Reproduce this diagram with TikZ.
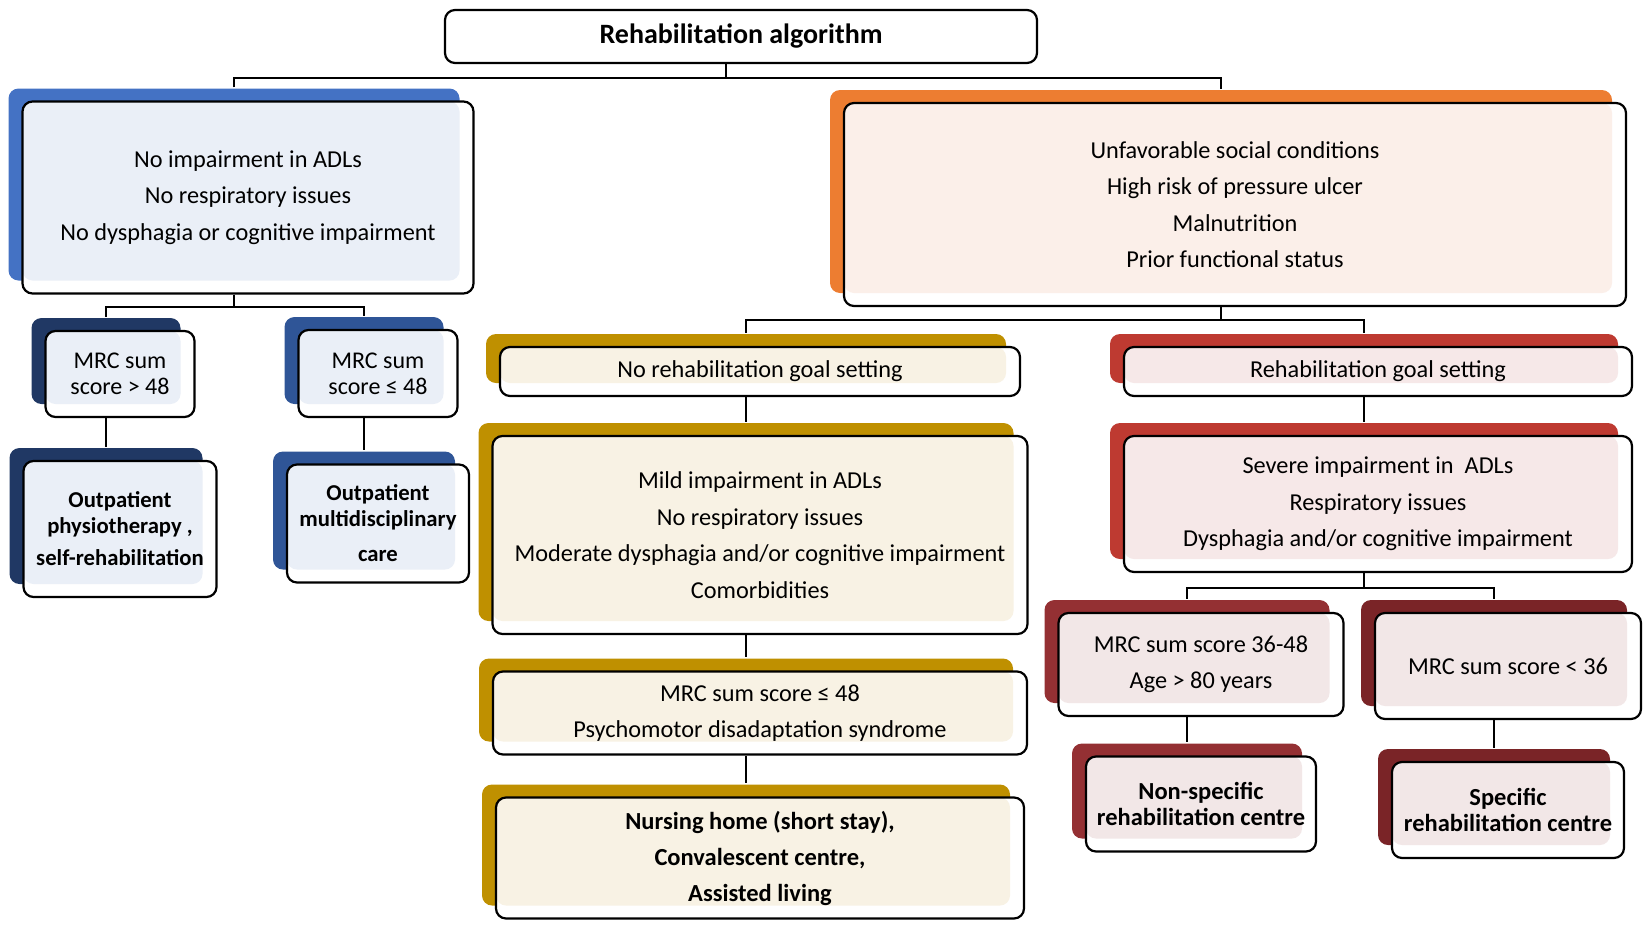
\documentclass[tikz,border=0pt]{standalone}
\usepackage{fontspec}
\setmainfont{Carlito}
\usetikzlibrary{shadows}

\definecolor{blueA}{HTML}{4472C4}
\definecolor{blueN}{HTML}{203864}
\definecolor{blueB}{HTML}{2F5597}
\definecolor{blueT}{HTML}{EAEFF7}
\definecolor{orangeA}{HTML}{ED7D31}
\definecolor{orangeT}{HTML}{FBEFE9}
\definecolor{goldA}{HTML}{BF9000}
\definecolor{goldT}{HTML}{F8F2E4}
\definecolor{redA}{HTML}{BE3A31}
\definecolor{redB}{HTML}{943033}
\definecolor{redC}{HTML}{7A2427}
\definecolor{redT}{HTML}{F6E8E8}
\definecolor{redU}{HTML}{F2E7E7}

\newcommand{\fsz}[2]{\fontsize{#1pt}{#2pt}\selectfont}

\begin{document}
\begin{tikzpicture}[x=1pt,y=-1pt,
    link/.style={draw=black,line width=2.2pt},
    plain/.style={rectangle,rounded corners=10pt,draw=black,line width=2.2pt,fill=white,
                  align=center,inner sep=0pt,font=\fsz{24.3}{36.5}},
    card/.style 2 args={plain,
        general shadow={fill=#1,shadow xshift=-14pt,shadow yshift=13pt},
        path picture={\fill[#2,rounded corners=10pt] (path picture bounding box.north west)
            rectangle ([xshift=-14pt,yshift=13pt]path picture bounding box.south east);}},
    bold/.style={font=\fsz{22.7}{26}\bfseries},
    bigbold/.style={font=\fsz{24.5}{26}\bfseries}]

  \useasboundingbox (0,0) rectangle (1643,924);

  % Nodes
  \node[plain,minimum width=592pt,minimum height=53pt,font=\fsz{28}{30}\bfseries] (title) at (741,36.5) {Rehabilitation algorithm};

  \node[card={blueA}{blueT},minimum width=451pt,minimum height=192pt] (noimp) at (248,197.5)
    {No impairment in ADLs\\No respiratory issues\\No dysphagia or cognitive impairment};
  \node[card={blueN}{blueT},minimum width=149pt,minimum height=86pt,font=\fsz{24}{26}] (mrchi) at (120,374) {MRC sum\\score > 48};
  \node[card={blueB}{blueT},minimum width=159pt,minimum height=87pt,font=\fsz{24}{26}] (mrclo) at (378,373.5) {MRC sum\\score ≤ 48};
  \node[card={blueN}{blueT},minimum width=193pt,minimum height=136pt,bold] (outphys) at (120,529)
    {Outpatient\\physiotherapy ,\\[6pt]self-rehabilitation};
  \node[card={blueB}{blueT},minimum width=182pt,minimum height=118pt,bold] (outmulti) at (378,523.5)
    {Outpatient\\multidisciplinary\\[9pt]care};

  \node[card={orangeA}{orangeT},minimum width=782pt,minimum height=203pt] (social) at (1235,204.5)
    {Unfavorable social conditions\\High risk of pressure ulcer\\Malnutrition\\Prior functional status};

  \node[card={goldA}{goldT},minimum width=520pt,minimum height=49pt] (nogoal) at (760,371.5) {No rehabilitation goal setting};
  \node[card={goldA}{goldT},minimum width=535pt,minimum height=198pt] (mild) at (760,535)
    {Mild impairment in ADLs\\No respiratory issues\\Moderate dysphagia and/or cognitive impairment\\Comorbidities};
  \node[card={goldA}{goldT},minimum width=534pt,minimum height=83pt] (psycho) at (760,713)
    {MRC sum score ≤ 48\\Psychomotor disadaptation syndrome};
  \node[card={goldA}{goldT},minimum width=528pt,minimum height=121pt,font=\fsz{24.5}{36}\bfseries] (nursing) at (760,858)
    {Nursing home (short stay),\\Convalescent centre,\\Assisted living};

  \node[card={redA}{redT},minimum width=508pt,minimum height=49pt] (goal) at (1378,371.5) {Rehabilitation goal setting};
  \node[card={redA}{redT},minimum width=508pt,minimum height=136pt] (severe) at (1378,504)
    {Severe impairment in~ ADLs\\Respiratory issues\\Dysphagia and/or cognitive impairment};
  \node[card={redB}{redU},minimum width=285pt,minimum height=103pt] (mrcmid) at (1201,664.5)
    {MRC sum score 36-48\\Age > 80 years};
  \node[card={redC}{redU},minimum width=266pt,minimum height=106pt] (mrcsev) at (1508,666)
    {MRC sum score < 36};
  \node[card={redB}{redU},minimum width=230pt,minimum height=95pt,bigbold] (nonspec) at (1201,804)
    {Non-specific\\rehabilitation centre};
  \node[card={redC}{redU},minimum width=232pt,minimum height=96pt,bigbold] (spec) at (1508,810)
    {Specific\\rehabilitation centre};

  % Connectors
  \draw[link] ([xshift=-15pt]title.south) -- ++(0,13.5) coordinate (t0);
  \draw[link] ([xshift=-14pt,yshift=13pt]noimp.north) |- (t0) -| ([xshift=-14pt,yshift=13pt]social.north);

  \draw[link] ([xshift=-14pt]noimp.south) -- ++(0,12) coordinate (t1);
  \draw[link] ([xshift=-14pt,yshift=13pt]mrchi.north) |- (t1) -| ([xshift=-14pt,yshift=13pt]mrclo.north);
  \draw[link] ([xshift=-14pt]mrchi.south) -- ([xshift=-14pt,yshift=13pt]outphys.north);
  \draw[link] ([xshift=-14pt]mrclo.south) -- ([xshift=-14pt,yshift=13pt]outmulti.north);

  \draw[link] ([xshift=-14pt]social.south) -- ++(0,12.5) coordinate (t2);
  \draw[link] ([xshift=-14pt,yshift=13pt]nogoal.north) |- (t2) -| ([xshift=-14pt,yshift=13pt]goal.north);
  \draw[link] ([xshift=-14pt]nogoal.south) -- ([xshift=-14pt,yshift=13pt]mild.north);
  \draw[link] ([xshift=-14pt]mild.south) -- ([xshift=-14pt,yshift=13pt]psycho.north);
  \draw[link] ([xshift=-14pt]psycho.south) -- ([xshift=-14pt,yshift=13pt]nursing.north);

  \draw[link] ([xshift=-14pt]goal.south) -- ([xshift=-14pt,yshift=13pt]severe.north);
  \draw[link] ([xshift=-14pt]severe.south) -- ++(0,14.5) coordinate (t3);
  \draw[link] ([xshift=-14pt,yshift=13pt]mrcmid.north) |- (t3) -| ([xshift=-14pt,yshift=13pt]mrcsev.north);
  \draw[link] ([xshift=-14pt]mrcmid.south) -- ([xshift=-14pt,yshift=13pt]nonspec.north);
  \draw[link] ([xshift=-14pt]mrcsev.south) -- ([xshift=-14pt,yshift=13pt]spec.north);

\end{tikzpicture}
\end{document}
